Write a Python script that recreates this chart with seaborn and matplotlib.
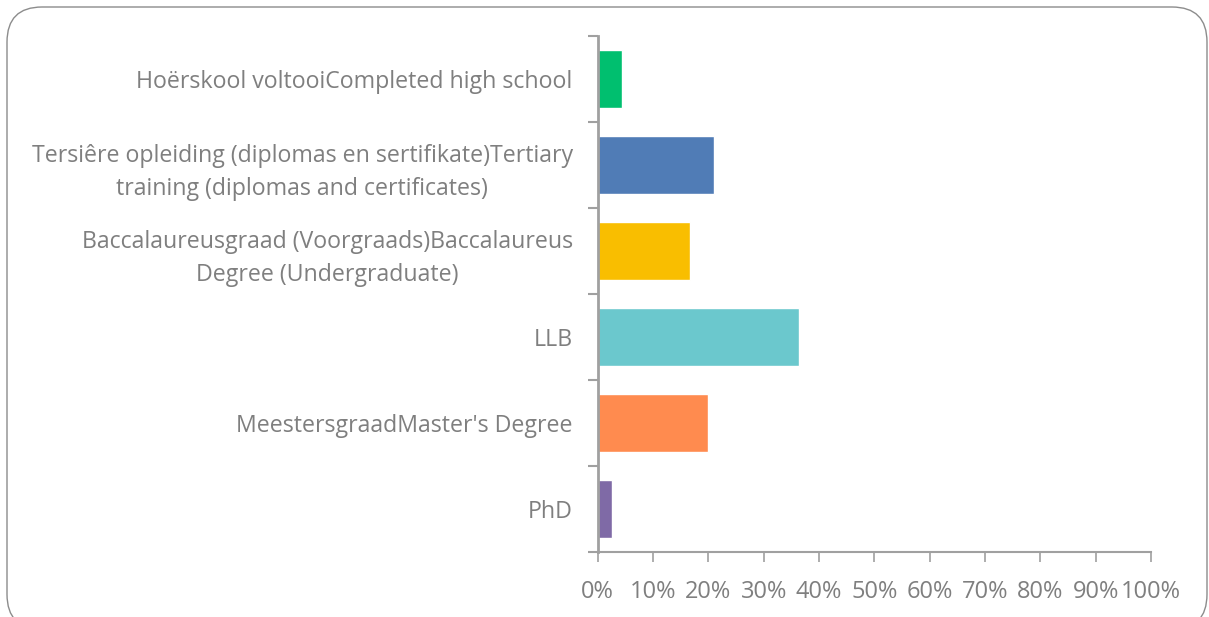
import matplotlib
matplotlib.use("Agg")
import matplotlib.pyplot as plt
import seaborn as sns
from matplotlib.patches import FancyBboxPatch
from matplotlib.ticker import PercentFormatter, FixedLocator

# data
categories = [
    "Hoërskool voltooiCompleted high school",
    "Tersiêre opleiding (diplomas en sertifikate)Tertiary\ntraining (diplomas and certificates)",
    "Baccalaureusgraad (Voorgraads)Baccalaureus\nDegree (Undergraduate)",
    "LLB",
    "MeestersgraadMaster's Degree",
    "PhD",
]
shares = [4.4, 21.1, 16.7, 36.4, 20.0, 2.6]
colors = ["#00BF6F", "#507CB6", "#F9BE00", "#6BC8CD", "#FF8B4F", "#7F6AA6"]

sns.set_style("white")
plt.rcParams['font.family'] = ['Open Sans', 'DejaVu Sans']

text_grey = "#7f7f7f"
axis_grey = "#a0a0a0"

fig = plt.figure(figsize=(12.09, 6.17), dpi=100)
ax = fig.add_axes([0.4944, 0.1053, 0.952 - 0.4944, 0.9417 - 0.1053])

sns.barplot(x=shares, y=categories, hue=categories, palette=colors,
            legend=False, orient="h", width=0.67, saturation=1, ax=ax)

ax.set_xlim(0, 100)
ax.set_ylim(5.5, -0.5)
ax.xaxis.set_major_locator(FixedLocator(range(0, 101, 10)))
ax.xaxis.set_major_formatter(PercentFormatter(decimals=0))
ax.set_xlabel("")
ax.set_ylabel("")

for side in ["top", "right"]:
    ax.spines[side].set_visible(False)
ax.spines["left"].set_color(axis_grey)
ax.spines["left"].set_linewidth(2)
ax.spines["bottom"].set_color(axis_grey)
ax.spines["bottom"].set_linewidth(1.5)

# category ticks sit between the bars
ax.yaxis.set_minor_locator(FixedLocator([i - 0.5 for i in range(7)]))
ax.tick_params(axis="y", which="major", length=0, pad=18, labelsize=16.7,
               labelcolor=text_grey)
ax.tick_params(axis="y", which="minor", length=7, width=1.5, color=axis_grey,
               left=True)
ax.tick_params(axis="x", which="major", length=7, width=1.2, color=axis_grey,
               bottom=True, pad=13, labelsize=17, labelcolor=text_grey)
for lbl in ax.get_yticklabels():
    lbl.set_multialignment("center")
    lbl.set_linespacing(1.5)

# rounded frame around the chart
frame = FancyBboxPatch((7 / 1209, -0.02), 1200 / 1209, 1 - 7 / 617 + 0.02,
                       boxstyle="round,pad=0,rounding_size=0.029",
                       mutation_aspect=1209 / 617, transform=fig.transFigure,
                       facecolor="none", edgecolor="#8c8c8c", linewidth=1)
fig.add_artist(frame)

fig.savefig("out.png", dpi=100)
plt.close(fig)
